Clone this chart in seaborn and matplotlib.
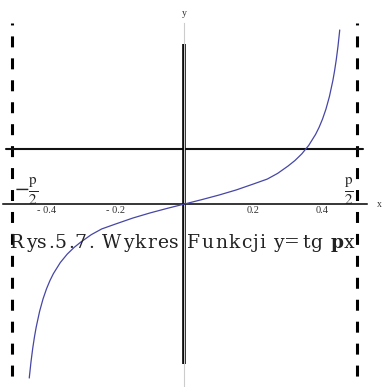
import matplotlib
matplotlib.use("Agg")
import matplotlib.pyplot as plt
from matplotlib.transforms import IdentityTransform
from matplotlib.font_manager import FontProperties
import seaborn as sns
import pandas as pd

# Sampled points of y = tg(pi x) on (-1/2, 1/2)
x_vals = [-0.45, -0.445, -0.44, -0.435, -0.43, -0.42, -0.41, -0.40, -0.39, -0.38,
          -0.36, -0.34, -0.32, -0.30, -0.27, -0.24, -0.20, -0.15, -0.10, -0.05,
          0.0, 0.05, 0.10, 0.15, 0.20, 0.24, 0.27, 0.30, 0.32, 0.34, 0.36,
          0.38, 0.39, 0.40, 0.41, 0.42, 0.43, 0.435, 0.44, 0.445, 0.45]
y_vals = [-6.314, -5.730, -5.242, -4.829, -4.474, -3.895, -3.442, -3.078, -2.778, -2.526,
          -2.125, -1.819, -1.576, -1.376, -1.111, -0.905, -0.727, -0.510, -0.325, -0.158,
          0.0, 0.158, 0.325, 0.510, 0.727, 0.905, 1.111, 1.376, 1.576, 1.819, 2.125,
          2.526, 2.778, 3.078, 3.442, 3.895, 4.474, 4.829, 5.242, 5.730, 6.314]

asymptotes = [-0.5, 0.5]
guide_level = 2.0
axis_half_len = 5.8
tick_pos = [-0.4, -0.2, 0.2, 0.4]
tick_text = ["- 0.4", "- 0.2", "0.2", "0.4"]
minor_pos = [-0.5, -0.45, -0.35, -0.3, -0.25, -0.15, -0.1, -0.05,
             0.05, 0.1, 0.15, 0.25, 0.3, 0.35, 0.45, 0.5]
caption = "Rys.5.7. Wykres Funkcji y=tg px"
# caption left/right edges and baseline, in pixels
caption_left, caption_right, caption_baseline = 10, 344, 247.5

W, H = 382, 387

sns.set_style("white")
plt.rcParams["font.family"] = ["Liberation Serif", "DejaVu Serif"]
plt.rcParams["mathtext.fontset"] = "stix"
plt.rcParams["lines.scale_dashes"] = False

fig = plt.figure(figsize=(W / 100, H / 100), dpi=100)
ax = fig.add_axes([0, 0, 1, 1])
ax.set_xlim(-0.5348, 0.5725)
ax.set_ylim(-6.640, 7.402)

# vertical asymptotes
for a in asymptotes:
    ax.plot([a, a], [6.567, -6.640], color="black", lw=2.2,
            linestyle=(6.5, (7.9, 7.9)), solid_capstyle="butt")

# horizontal guide line
ax.plot([-0.516, 0.517], [guide_level, guide_level], color="#111111", lw=1.5)

# thick central axis segment
ax.plot([0, 0], [-axis_half_len, axis_half_len], color="black", lw=2.6,
        solid_capstyle="butt")

df = pd.DataFrame({"x": x_vals, "y": y_vals})
sns.lineplot(data=df, x="x", y="y", sort=False, color="#4646a6", lw=0.9,
             ax=ax, zorder=5)

# axes through the origin
for s in ("top", "right"):
    ax.spines[s].set_visible(False)
ax.spines["bottom"].set_position(("data", 0))
ax.spines["bottom"].set_bounds(-0.526, 0.529)
ax.spines["bottom"].set_linewidth(1.1)
ax.spines["bottom"].set_color("black")
ax.spines["left"].set_position(("data", 0))
ax.spines["left"].set_bounds(-6.640, 6.56)
ax.spines["left"].set_color("#cccccc")
ax.spines["left"].set_linewidth(0.8)
ax.set_yticks([])
ax.set_xticks(tick_pos)
ax.set_xticklabels(tick_text, fontsize=7.5, color="#333333")
ax.set_xticks(minor_pos, minor=True)
ax.tick_params(axis="x", which="major", direction="in", length=2.5, width=0.6,
               pad=1.5)
ax.tick_params(axis="x", which="minor", direction="in", length=1.5, width=0.5)
ax.set_xlabel("")
ax.set_ylabel("")

ax.text(0.564, 0.0, "x", fontsize=7, ha="center", va="center", color="#333333")
ax.text(0.0, 6.93, "y", fontsize=7, ha="center", va="center", color="#333333")

ax.text(-0.458, 0.45, r"$-\frac{\mathrm{p}}{2}$", fontsize=15.5, ha="center",
        va="center")
ax.text(0.477, 0.45, r"$\frac{\mathrm{p}}{2}$", fontsize=15.5, ha="center",
        va="center")

# caption, evenly letter-spaced across its width
renderer = fig.canvas.get_renderer()
cap_size = 13.5
cap_family = ["DejaVu Serif"]
base = FontProperties(family=cap_family, size=cap_size)


def advance(s):
    w_bar = renderer.get_text_width_height_descent("|", base, ismath=False)[0]
    return renderer.get_text_width_height_descent(s + "|", base, ismath=False)[0] - w_bar


starts = [advance(caption[:i]) if i > 0 else 0.0 for i in range(len(caption))]
scale = max((caption_right - caption_left) / starts[-1], 1.0)
for i, ch in enumerate(caption):
    if ch == " ":
        continue
    bold = (i == len(caption) - 2)
    fp = FontProperties(family=cap_family, size=cap_size,
                        weight="bold" if bold else "normal")
    fig.text(caption_left + starts[i] * scale, H - caption_baseline, ch,
             fontproperties=fp, color="#222222",
             ha="left", va="baseline", transform=IdentityTransform())

fig.savefig("out.png", dpi=100)
